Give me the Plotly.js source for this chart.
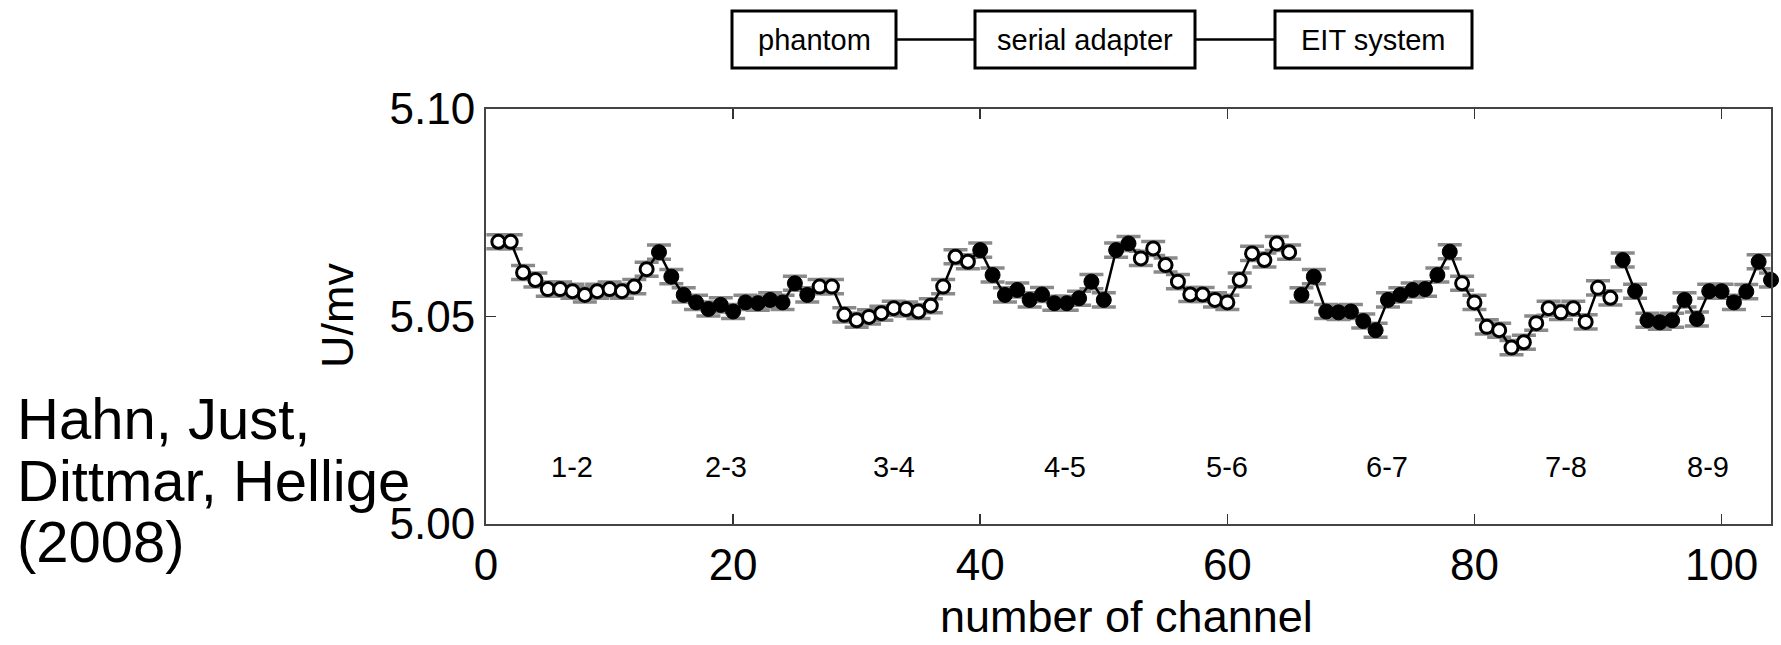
<!DOCTYPE html>
<html>
<head>
<meta charset="utf-8">
<script src="https://cdn.plot.ly/plotly-3.0.1.min.js"></script>
<style>html,body{margin:0;padding:0;background:#fff}#chart{width:1781px;height:645px}</style>
</head>
<body>
<div id="chart"></div>
<script>
// ---- data ----
const voltage = [
  5.0680, 5.0680, 5.0606, 5.0588, 5.0566, 5.0566, 5.0561, 5.0552, 5.0561, 5.0566, 5.0561, 5.0572, 5.0614,
  5.0655, 5.0596, 5.0552, 5.0534, 5.0518, 5.0528, 5.0512, 5.0534, 5.0532, 5.0540, 5.0534, 5.0580, 5.0552,
  5.0572, 5.0572, 5.0504, 5.0491, 5.0499, 5.0508, 5.0520, 5.0518, 5.0512, 5.0526, 5.0572, 5.0644, 5.0632,
  5.0660, 5.0600, 5.0552, 5.0564, 5.0540, 5.0553, 5.0532, 5.0532, 5.0544, 5.0584, 5.0540, 5.0660, 5.0676,
  5.0640, 5.0664, 5.0624, 5.0584, 5.0553, 5.0553, 5.0540, 5.0534, 5.0588, 5.0652, 5.0636, 5.0676, 5.0655,
  5.0552, 5.0596, 5.0512, 5.0510, 5.0512, 5.0489, 5.0467, 5.0540, 5.0552, 5.0564, 5.0566, 5.0600, 5.0656,
  5.0580, 5.0534, 5.0475, 5.0467, 5.0425, 5.0438, 5.0484, 5.0520, 5.0510, 5.0520, 5.0487, 5.0569, 5.0545,
  5.0636, 5.0561, 5.0491, 5.0486, 5.0491, 5.0540, 5.0494, 5.0561, 5.0561, 5.0534, 5.0560, 5.0632, 5.0588
];
const channelsPerGroup = 13;
const groupLabels = ['1-2', '2-3', '3-4', '4-5', '5-6', '6-7', '7-8', '8-9'];
const groupFilled = [false, true, false, true, false, true, false, true];
const lineBreaksAfter = [65, 91];
const errorHalf = 0.0017;
const xTickVals = [0, 20, 40, 60, 80, 100];
const yTickVals = [5.00, 5.05, 5.10];
const yTickText = ['5.00', '5.05', '5.10'];
const chainBoxes = ['phantom', 'serial adapter', 'EIT system'];
const citationLines = ['Hahn, Just,', 'Dittmar, Hellige', '(2008)'];
const xTitle = 'number of channel';
const yTitle = 'U/mv';

// ---- layout constants (pixels) ----
const W = 1781, H = 645, L = 486, R = 1771, T = 109, B = 524;
const px2x = p => (p - L) / (R - L);
const py2y = p => (B - p) / (B - T);
const FONT = 'Liberation Sans, Arial, Helvetica, sans-serif';
const groupLabelPos = [7, 19.4, 33, 46.9, 60, 72.9, 87.4, 98.9];
const groupLabelY = 5.0138;
const boxPx = [[732, 896], [975, 1195], [1275, 1472]];
const boxTop = 11, boxBottom = 68;
const citationCenters = [418, 480, 541];

// ---- build traces ----
const channels = voltage.map((v, i) => i + 1);
const lineX = [], lineY = [];
channels.forEach((c, i) => {
  lineX.push(c); lineY.push(voltage[i]);
  if (lineBreaksAfter.includes(c)) { lineX.push(null); lineY.push(null); }
});
const openX = [], openY = [], fillX = [], fillY = [];
channels.forEach((c, i) => {
  const g = Math.floor(i / channelsPerGroup);
  if (groupFilled[g]) { fillX.push(c); fillY.push(voltage[i]); }
  else { openX.push(c); openY.push(voltage[i]); }
});

const traces = [
  { x: channels, y: voltage, type: 'scatter', mode: 'markers',
    marker: { size: 1, opacity: 0 }, cliponaxis: false, hoverinfo: 'skip',
    error_y: { type: 'constant', value: errorHalf, color: '#8a8a8a', thickness: 3.5, width: 12 } },
  { x: lineX, y: lineY, type: 'scatter', mode: 'lines', connectgaps: false,
    line: { color: '#000', width: 2.5 }, cliponaxis: false },
  { x: openX, y: openY, type: 'scatter', mode: 'markers', cliponaxis: false,
    marker: { symbol: 'circle', size: 13, color: '#fff', line: { color: '#000', width: 3 } } },
  { x: fillX, y: fillY, type: 'scatter', mode: 'markers', cliponaxis: false,
    marker: { symbol: 'circle', size: 15, color: '#000', line: { color: '#000', width: 1 } } }
];

// ---- annotations & shapes ----
const annotations = [];
const shapes = [];
const ann = (o) => Object.assign({ showarrow: false, xanchor: 'center', yanchor: 'middle' }, o);
groupLabels.forEach((t, i) => {
  annotations.push(ann({ text: t, x: groupLabelPos[i], y: groupLabelY, xref: 'x', yref: 'y',
    font: { family: FONT, size: 29, color: '#000' } }));
});
citationLines.forEach((t, i) => {
  annotations.push(ann({ text: t, x: px2x(15), y: py2y(citationCenters[i]), xref: 'paper', yref: 'paper',
    xanchor: 'left', font: { family: FONT, size: 58, color: '#000' } }));
});
annotations.push(ann({ text: yTitle, x: px2x(337), y: py2y(316), xref: 'paper', yref: 'paper',
  textangle: -90, font: { family: FONT, size: 45, color: '#000' } }));
annotations.push(ann({ text: xTitle, x: px2x(1126), y: py2y(616), xref: 'paper', yref: 'paper',
  font: { family: FONT, size: 45, color: '#000' } }));

chainBoxes.forEach((t, i) => {
  const [x0, x1] = boxPx[i];
  const yc = (boxTop + boxBottom) / 2;
  shapes.push({ type: 'rect', xref: 'paper', yref: 'paper', x0: px2x(x0), x1: px2x(x1),
    y0: py2y(boxBottom), y1: py2y(boxTop), line: { color: '#000', width: 3 }, fillcolor: '#fff' });
  annotations.push(ann({ text: t, x: px2x((x0 + x1) / 2), y: py2y(yc),
    xref: 'paper', yref: 'paper', font: { family: FONT, size: 29, color: '#000' } }));
  if (i < chainBoxes.length - 1) {
    shapes.push({ type: 'line', xref: 'paper', yref: 'paper', x0: px2x(x1), x1: px2x(boxPx[i + 1][0]),
      y0: py2y(yc), y1: py2y(yc), line: { color: '#000', width: 2.5 } });
  }
});

const axisCommon = {
  showgrid: false, zeroline: false, showline: true, linecolor: '#444', linewidth: 2,
  mirror: 'ticks', ticks: 'inside', ticklen: 10, tickwidth: 1.5, tickcolor: '#333',
  tickfont: { family: FONT, size: 44, color: '#000' }, fixedrange: true
};

const layout = {
  width: W, height: H,
  margin: { l: L, r: W - R, t: T, b: H - B, pad: 0 },
  paper_bgcolor: '#fff', plot_bgcolor: '#fff',
  showlegend: false,
  xaxis: Object.assign({}, axisCommon, { range: [0, 104], tickvals: xTickVals, ticklabelstandoff: 1 }),
  yaxis: Object.assign({}, axisCommon, { range: [5.0, 5.1], tickvals: yTickVals, ticktext: yTickText, ticklabelstandoff: 0 }),
  annotations: annotations,
  shapes: shapes
};

Plotly.newPlot('chart', traces, layout, { displayModeBar: false, staticPlot: true });
</script>
</body>
</html>
